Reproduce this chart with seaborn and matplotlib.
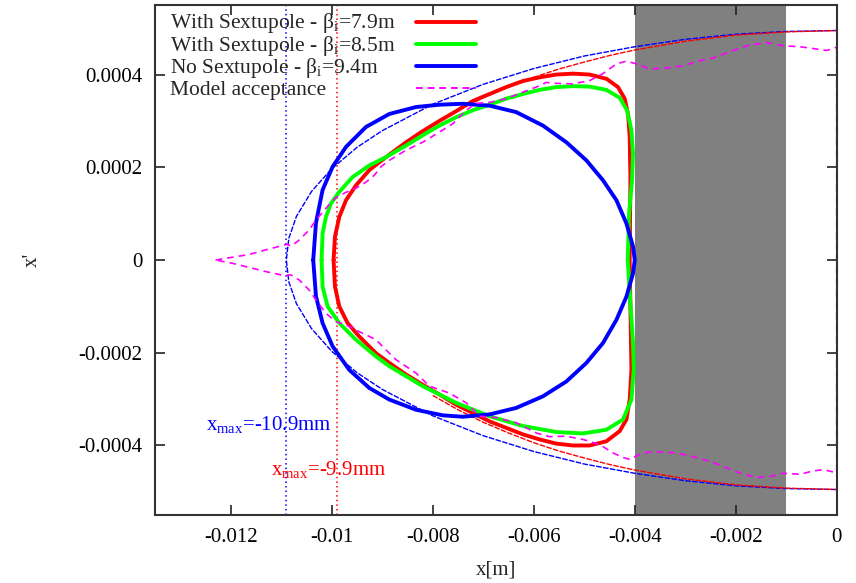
import matplotlib
matplotlib.use("Agg")
import matplotlib.pyplot as plt
import pandas as pd
import seaborn as sns

# ---- phase-space data: x in mm, x' in mrad ----
# With sextupole, beta_i = 7.9 m (upper and lower branches, left vertex -> right vertex)
red_up_x = [-9.964, -9.937, -9.851, -9.718, -9.520, -9.256, -8.925, -8.528, -8.199, -7.868,
            -7.537, -7.207, -6.876, -6.545, -6.216, -5.885, -5.553, -5.224, -4.893, -4.562,
            -4.332, -4.199, -4.133, -4.100, -4.086, -4.093, -4.100]
red_up_y = [0.000, 0.050, 0.093, 0.129, 0.161, 0.194, 0.222, 0.254, 0.278, 0.300,
            0.321, 0.343, 0.358, 0.373, 0.386, 0.394, 0.400, 0.402, 0.400, 0.391,
            0.373, 0.348, 0.315, 0.265, 0.179, 0.086, 0.000]
red_lo_x = [-9.964, -9.937, -9.851, -9.687, -9.455, -9.123, -8.860, -8.528, -8.199, -7.868,
            -7.537, -7.207, -6.876, -6.545, -6.216, -5.885, -5.553, -5.224, -4.893, -4.562,
            -4.298, -4.165, -4.100, -4.066, -4.080, -4.100]
red_lo_y = [0.000, -0.057, -0.100, -0.136, -0.165, -0.201, -0.222, -0.247, -0.269, -0.290,
            -0.312, -0.330, -0.348, -0.362, -0.376, -0.387, -0.396, -0.400, -0.400, -0.391,
            -0.369, -0.344, -0.301, -0.237, -0.143, 0.000]

# With sextupole, beta_i = 8.5 m
green_up_x = [-10.202, -10.182, -10.115, -10.016, -9.851, -9.587, -9.256, -8.925, -8.528, -8.199,
              -7.868, -7.537, -7.207, -6.876, -6.545, -6.216, -5.885, -5.553, -5.224, -4.893,
              -4.562, -4.298, -4.153, -4.066, -4.034, -4.054, -4.113, -4.139]
green_up_y = [0.000, 0.057, 0.093, 0.122, 0.147, 0.179, 0.204, 0.222, 0.247, 0.269,
              0.290, 0.308, 0.323, 0.335, 0.348, 0.358, 0.367, 0.373, 0.375, 0.374,
              0.367, 0.350, 0.323, 0.280, 0.229, 0.172, 0.100, 0.000]
green_lo_x = [-10.202, -10.182, -10.083, -9.851, -9.520, -9.123, -8.860, -8.199, -7.537, -6.876,
              -6.216, -5.553, -5.026, -4.562, -4.232, -4.066, -4.020, -4.034, -4.086, -4.139]
green_lo_y = [0.000, -0.057, -0.100, -0.136, -0.172, -0.208, -0.229, -0.272, -0.308, -0.337,
              -0.358, -0.371, -0.374, -0.366, -0.344, -0.301, -0.237, -0.179, -0.093, 0.000]

# No sextupole, beta_i = 9.4 m
blue_up_x = [-10.367, -10.313, -10.182, -9.984, -9.718, -9.322, -8.860, -8.330, -7.868, -7.406,
             -6.876, -6.347, -5.819, -5.355, -4.958, -4.629, -4.363, -4.165, -4.034, -4.000]
blue_up_y = [0.000, 0.080, 0.151, 0.201, 0.244, 0.287, 0.315, 0.330, 0.335, 0.337,
             0.333, 0.319, 0.290, 0.254, 0.215, 0.172, 0.129, 0.079, 0.029, 0.000]
blue_lo_x = [-10.367, -10.313, -10.182, -9.984, -9.653, -9.256, -8.860, -8.330, -7.802, -7.406,
             -6.876, -6.347, -5.819, -5.355, -4.958, -4.629, -4.363, -4.165, -4.034, -4.000]
blue_lo_y = [0.000, -0.078, -0.136, -0.186, -0.237, -0.276, -0.301, -0.323, -0.335, -0.338,
             -0.333, -0.319, -0.294, -0.262, -0.222, -0.179, -0.129, -0.079, -0.029, 0.000]

# Acceptance ellipses (thin lines) for the two limiting apertures
ell_blue_x = [-10.9, -10.85, -10.7, -10.4, -10.0, -9.5, -9.0, -8.0, -7.0, -6.0, -5.0, -4.0, -3.0, -2.0, -1.0, 0.0]
ell_blue_up = [0.000, 0.047, 0.094, 0.148, 0.197, 0.243, 0.279, 0.336, 0.379, 0.413, 0.440, 0.460, 0.476, 0.487, 0.493, 0.495]
ell_blue_lo = [0.000, -0.047, -0.094, -0.148, -0.197, -0.243, -0.279, -0.336, -0.379, -0.413, -0.440, -0.460, -0.476, -0.487, -0.493, -0.495]
# visible outer part of the beta_i = 7.9 m ellipse (the rest runs under the thick contour)
ell_red_x = [-8.0, -7.5, -7.0, -6.5, -6.0, -5.5, -5.0, -4.5, -4.0, -3.0, -2.0, -1.0, 0.0]
ell_red_up = [0.292, 0.323, 0.350, 0.373, 0.394, 0.412, 0.427, 0.441, 0.453, 0.472, 0.485, 0.492, 0.495]
ell_red_lo = [-0.292, -0.323, -0.350, -0.373, -0.394, -0.412, -0.427, -0.441, -0.453, -0.472, -0.485, -0.492, -0.495]

# Model acceptance
acc_up_x = [-12.301, -11.967, -11.636, -11.305, -10.982, -10.883, -10.803, -10.645, -10.446, -10.313,
            -10.182, -10.050, -9.917, -9.718, -9.520, -9.322, -9.157, -9.018, -8.860, -8.528,
            -8.199, -7.868, -7.604, -7.338, -7.140, -6.876, -6.545, -6.216, -5.950, -5.752,
            -5.553, -5.224, -4.893, -4.629, -4.363, -4.165, -3.967, -3.703, -3.372, -3.042,
            -2.711, -2.447, -2.051, -1.720, -1.388, -1.059, -0.728, -0.397, -0.198, 0.000]
acc_up_y = [0.000, 0.006, 0.012, 0.022, 0.031, 0.034, 0.030, 0.043, 0.065, 0.086,
            0.103, 0.120, 0.135, 0.146, 0.155, 0.168, 0.183, 0.202, 0.215, 0.237,
            0.254, 0.276, 0.294, 0.323, 0.338, 0.340, 0.348, 0.362, 0.373, 0.383,
            0.381, 0.380, 0.387, 0.402, 0.423, 0.429, 0.423, 0.412, 0.414, 0.419,
            0.430, 0.436, 0.452, 0.464, 0.469, 0.462, 0.460, 0.455, 0.452, 0.459]
acc_lo_x = [-12.301, -11.967, -11.636, -11.305, -10.922, -10.809, -10.645, -10.446, -10.313, -10.115,
            -9.917, -9.718, -9.520, -9.123, -8.925, -8.727, -8.330, -8.066, -7.670, -7.338,
            -7.075, -6.743, -6.347, -5.950, -5.686, -5.355, -5.026, -4.695, -4.431, -4.232,
            -4.100, -3.901, -3.703, -3.505, -3.173, -2.844, -2.513, -2.182, -1.852, -1.587,
            -1.323, -1.059, -0.728, -0.464, -0.266, 0.000]
acc_lo_y = [0.000, -0.007, -0.016, -0.025, -0.034, -0.032, -0.043, -0.065, -0.086, -0.115,
            -0.133, -0.140, -0.151, -0.172, -0.194, -0.215, -0.244, -0.272, -0.287, -0.308,
            -0.337, -0.340, -0.351, -0.373, -0.381, -0.380, -0.387, -0.398, -0.416, -0.426,
            -0.430, -0.419, -0.414, -0.414, -0.416, -0.424, -0.434, -0.448, -0.462, -0.469,
            -0.467, -0.460, -0.462, -0.455, -0.452, -0.459]

xmax_mm = [-10.9, -9.9]
xmax_colors = ["#0000ff", "#ff0000"]
shade_mm = [-4.0, -1.0]

legend_labels = ["With Sextupole - β$_\\mathrm{i}$=7.9m",
                 "With Sextupole - β$_\\mathrm{i}$=8.5m",
                 "No Sextupole - β$_\\mathrm{i}$=9.4m",
                 "Model acceptance"]
x_ticks = [-0.012, -0.010, -0.008, -0.006, -0.004, -0.002, 0.0]
x_ticklabels = ["-0.012", "-0.01", "-0.008", "-0.006", "-0.004", "-0.002", "0"]
y_ticks = [-0.0004, -0.0002, 0.0, 0.0002, 0.0004]
y_ticklabels = ["-0.0004", "-0.0002", "0", "0.0002", "0.0004"]

# ---- style ----
sns.set_style("ticks")
plt.rcParams["font.family"] = ["Liberation Serif", "DejaVu Serif"]
plt.rcParams["mathtext.fontset"] = "custom"
plt.rcParams["mathtext.rm"] = "Liberation Serif"
plt.rcParams["mathtext.it"] = "Liberation Serif:italic"
plt.rcParams["axes.unicode_minus"] = False
plt.rcParams["lines.solid_joinstyle"] = "round"
FS = 15
LFS = 15.5


def closed(xu, yu, xl, yl):
    """Upper branch followed by the lower branch traversed backwards."""
    xs = list(xu) + list(xl)[::-1]
    ys = list(yu) + list(yl)[::-1]
    return pd.DataFrame({"x": [v * 1e-3 for v in xs], "xp": [v * 1e-3 for v in ys]})


def branch(xs, ys):
    return pd.DataFrame({"x": [v * 1e-3 for v in xs], "xp": [v * 1e-3 for v in ys]})


def ellipse(xs, up, lo):
    xx = list(xs)[::-1] + list(xs)[1:]
    yy = list(up)[::-1] + list(lo)[1:]
    return branch(xx, yy)


fig = plt.figure(figsize=(8.56, 5.83), dpi=100)
ax = fig.add_axes([0.1811, 0.1166, 0.7964, 0.8748])

ax.axvspan(shade_mm[0] * 1e-3, shade_mm[1] * 1e-3, color="#808080", zorder=0.5, lw=0)
for v, c in zip(xmax_mm, xmax_colors):
    ax.axvline(v * 1e-3, color=c, lw=1.1, linestyle=(0, (1, 2)), zorder=1)

kw = dict(x="x", y="xp", sort=False, estimator=None, ax=ax, legend=False)
thin = dict(lw=1.0, linestyle=(0, (4, 1)))
sns.lineplot(data=ellipse(ell_blue_x, ell_blue_up, ell_blue_lo), color="#0000ff", **thin, **kw)
sns.lineplot(data=branch(ell_red_x, ell_red_up), color="#ff0000", **thin, **kw)
sns.lineplot(data=branch(ell_red_x, ell_red_lo), color="#ff0000", **thin, **kw)

styles = [dict(color="#ff0000", lw=2.8), dict(color="#00ff00", lw=2.8),
          dict(color="#0000ff", lw=2.8), dict(color="#ff00ff", lw=1.2, linestyle=(0, (4, 3)))]
contours = [closed(red_up_x, red_up_y, red_lo_x, red_lo_y),
            closed(green_up_x, green_up_y, green_lo_x, green_lo_y),
            closed(blue_up_x, blue_up_y, blue_lo_x, blue_lo_y),
            closed(acc_up_x, acc_up_y, acc_lo_x, acc_lo_y)]
key_handles = []
for df, st in zip(contours, styles):
    n_before = len(ax.lines)
    sns.lineplot(data=df, **st, **kw)
    key_handles.append(ax.lines[n_before])

# annotations of the horizontal aperture limits
ax.text(-12.49e-3, -0.354e-3, "x$_\\mathrm{max}$=%gmm" % xmax_mm[0], color=xmax_colors[0],
        fontsize=FS, ha="left", va="center")
ax.text(-11.20e-3, -0.451e-3, "x$_\\mathrm{max}$=%gmm" % xmax_mm[1], color=xmax_colors[1],
        fontsize=FS, ha="left", va="center")

ax.set_xlim(-0.0135, 0.0)
ax.set_ylim(-0.00055, 0.00055)
ax.set_xticks(x_ticks)
ax.set_xticklabels(x_ticklabels)
ax.set_yticks(y_ticks)
ax.set_yticklabels(y_ticklabels)
ax.tick_params(direction="in", top=True, right=True, length=7, width=1.2,
               labelsize=FS, pad=9, colors="#222222", labelcolor="black")
for s in ax.spines.values():
    s.set_color("#333333")
    s.set_linewidth(1.5)
ax.set_xlabel("x[m]", fontsize=FS, labelpad=10)
ax.set_ylabel("x'", fontsize=FS, labelpad=26)

# gnuplot-style key: left-aligned labels, line samples in a column on the right
row_pitch = 22.2 / 510.0          # one key row, in axes fraction
first_baseline = 1.0 - 23.3 / 510.0
for i, (lab, hd) in enumerate(zip(legend_labels, key_handles)):
    yb = first_baseline - i * row_pitch
    ax.text(0.022, yb, lab, transform=ax.transAxes, fontsize=LFS, ha="left", va="baseline")
    sample = ax.legend([hd], [""], loc="center left", bbox_to_anchor=(0.383, yb + 4.0 / 510.0),
                       frameon=False, fontsize=LFS, handlelength=2.8, handletextpad=0.0,
                       borderpad=0.0, borderaxespad=0.0)
    ax.add_artist(sample)

fig.savefig("out.png", dpi=100)
